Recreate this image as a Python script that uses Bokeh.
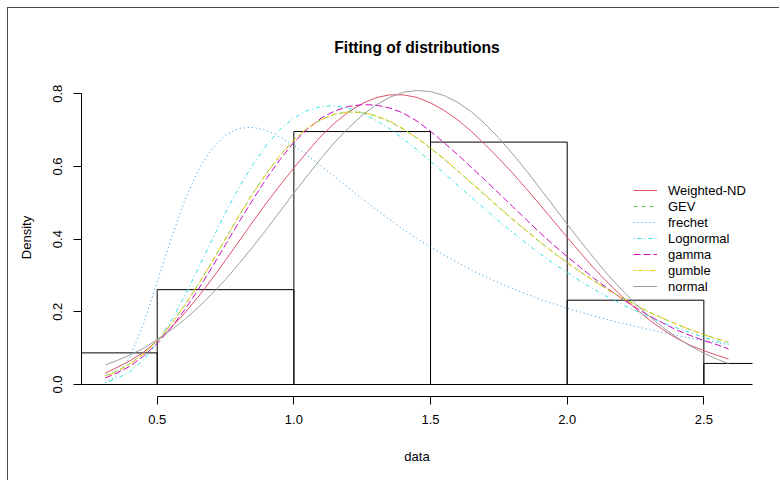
from bokeh.plotting import figure
from bokeh.models import Range1d, FixedTicker, PrintfTickFormatter, Legend, LegendItem
from bokeh.embed import file_html
from bokeh.resources import INLINE

# ---- histogram (density) ----
bin_left = [0.0, 0.5, 1.0, 1.5, 2.0, 2.5]
bin_right = [0.5, 1.0, 1.5, 2.0, 2.5, 3.0]
hist_density = [0.087, 0.261, 0.696, 0.667, 0.232, 0.058]

# ---- fitted density curves ----
x_grid = [0.31, 0.35, 0.40, 0.45, 0.50, 0.55, 0.60, 0.65, 0.70, 0.75, 0.80, 0.85, 0.90, 0.95,
          1.00, 1.05, 1.10, 1.15, 1.20, 1.25, 1.30, 1.35, 1.40, 1.45, 1.50, 1.55, 1.60, 1.65,
          1.70, 1.75, 1.80, 1.85, 1.90, 1.95, 2.00, 2.05, 2.10, 2.15, 2.20, 2.25, 2.30, 2.35,
          2.40, 2.45, 2.50, 2.55, 2.59]

weighted_nd = [0.031, 0.046, 0.065, 0.089, 0.120, 0.156, 0.196, 0.241, 0.290, 0.342, 0.395, 0.448,
               0.500, 0.549, 0.596, 0.641, 0.684, 0.720, 0.750, 0.773, 0.789, 0.797, 0.797, 0.790,
               0.775, 0.754, 0.728, 0.696, 0.660, 0.622, 0.582, 0.539, 0.495, 0.450, 0.405, 0.361,
               0.318, 0.279, 0.243, 0.209, 0.178, 0.151, 0.127, 0.108, 0.093, 0.080, 0.070]
gev = [0.024, 0.036, 0.057, 0.085, 0.121, 0.165, 0.217, 0.275, 0.337, 0.401, 0.465, 0.526,
       0.582, 0.631, 0.673, 0.706, 0.729, 0.744, 0.750, 0.748, 0.739, 0.723, 0.703, 0.678,
       0.650, 0.620, 0.587, 0.554, 0.520, 0.487, 0.454, 0.423, 0.392, 0.363, 0.335, 0.309,
       0.284, 0.261, 0.239, 0.219, 0.200, 0.182, 0.166, 0.151, 0.138, 0.125, 0.116]
gumble = [0.023, 0.035, 0.056, 0.084, 0.120, 0.165, 0.217, 0.275, 0.337, 0.401, 0.465, 0.525,
          0.581, 0.631, 0.673, 0.706, 0.729, 0.744, 0.750, 0.749, 0.740, 0.725, 0.704, 0.679,
          0.651, 0.621, 0.588, 0.555, 0.522, 0.488, 0.456, 0.424, 0.393, 0.363, 0.335, 0.309,
          0.284, 0.260, 0.238, 0.218, 0.199, 0.182, 0.166, 0.151, 0.137, 0.125, 0.116]
lognormal = [0.006, 0.015, 0.035, 0.068, 0.115, 0.174, 0.243, 0.319, 0.397, 0.473, 0.543, 0.606,
             0.659, 0.702, 0.733, 0.754, 0.765, 0.767, 0.760, 0.747, 0.727, 0.704, 0.676, 0.646,
             0.614, 0.581, 0.548, 0.515, 0.482, 0.450, 0.419, 0.389, 0.360, 0.333, 0.308, 0.284,
             0.261, 0.240, 0.221, 0.203, 0.186, 0.170, 0.156, 0.143, 0.130, 0.119, 0.111]
gamma = [0.018, 0.031, 0.050, 0.078, 0.113, 0.155, 0.205, 0.261, 0.322, 0.385, 0.448, 0.509,
         0.567, 0.620, 0.666, 0.703, 0.733, 0.753, 0.765, 0.770, 0.769, 0.761, 0.747, 0.725,
         0.697, 0.665, 0.632, 0.597, 0.562, 0.526, 0.490, 0.454, 0.418, 0.384, 0.352, 0.321,
         0.291, 0.263, 0.236, 0.212, 0.189, 0.169, 0.150, 0.135, 0.121, 0.109, 0.098]
normal = [0.054, 0.065, 0.081, 0.100, 0.123, 0.149, 0.179, 0.212, 0.249, 0.289, 0.333, 0.379,
          0.427, 0.477, 0.527, 0.575, 0.623, 0.667, 0.706, 0.741, 0.769, 0.790, 0.804, 0.809,
          0.806, 0.795, 0.776, 0.750, 0.717, 0.678, 0.635, 0.589, 0.540, 0.491, 0.441, 0.393,
          0.346, 0.301, 0.260, 0.222, 0.188, 0.157, 0.130, 0.106, 0.086, 0.069, 0.058]
frechet = [0.005, 0.022, 0.076, 0.167, 0.282, 0.399, 0.505, 0.589, 0.649, 0.686, 0.705, 0.708,
           0.699, 0.681, 0.658, 0.630, 0.601, 0.571, 0.541, 0.511, 0.482, 0.454, 0.427, 0.402,
           0.378, 0.356, 0.335, 0.315, 0.297, 0.280, 0.264, 0.249, 0.235, 0.222, 0.210, 0.199,
           0.188, 0.178, 0.169, 0.160, 0.151, 0.143, 0.135, 0.128, 0.121, 0.115, 0.110]

series_names = ["Weighted-ND", "GEV", "frechet", "Lognormal", "gamma", "gumble", "normal"]
series_colors = ["#DF536B", "#61D04F", "#2297E6", "#28E2E5", "#CD0BBC", "#F5C710", "#9E9E9E"]
series_dash = ["solid", "4 4", "1 3", "1 3 4 3", "7 3", "2 2 6 2", "solid"]

x_ticks = [0.5, 1.0, 1.5, 2.0, 2.5]
y_ticks = [0.0, 0.2, 0.4, 0.6, 0.8]

FONT = "Liberation Sans"

p = figure(width=772, height=473, output_backend="svg", toolbar_location=None,
           x_range=Range1d(0.223, 2.678), y_range=Range1d(-0.033, 0.842),
           min_border_left=73, min_border_right=28, min_border_top=70, min_border_bottom=85,
           title="Fitting of distributions")
p.styles = {"border-top": "1px solid #4a4a4a", "border-left": "1px solid #4a4a4a",
            "margin-top": "7px", "margin-left": "7px"}

p.title.align = "center"
p.title.text_font = FONT
p.title.text_font_size = "15.6px"
p.title.text_font_style = "bold"
p.title.text_color = "black"
p.title.standoff = 46

p.background_fill_color = "white"
p.border_fill_color = "white"
p.outline_line_color = None
p.xgrid.visible = False
p.ygrid.visible = False

# histogram bars
p.quad(left=bin_left, right=bin_right, bottom=[0] * len(hist_density), top=hist_density,
       fill_color=None, line_color="black", line_width=1)

ys = [weighted_nd, gev, frechet, lognormal, gamma, gumble, normal]
items = []
for name, col, dash, yv in zip(series_names, series_colors, series_dash, ys):
    r = p.line(x=list(x_grid), y=yv, line_color=col, line_width=1, line_dash=dash)
    items.append(LegendItem(label=name, renderers=[r]))

legend = Legend(items=items, location=(552, 102), border_line_color=None,
                background_fill_alpha=0, padding=0, margin=0, spacing=0,
                glyph_width=24, glyph_height=16, label_height=16, label_standoff=11,
                label_text_font=FONT, label_text_font_size="13px", label_text_color="black")
p.add_layout(legend)

for ax in (p.xaxis[0], p.yaxis[0]):
    ax.axis_line_color = "black"
    ax.major_tick_line_color = "black"
    ax.major_tick_out = 8
    ax.major_tick_in = 0
    ax.minor_tick_line_color = None
    ax.major_label_text_font = FONT
    ax.major_label_text_font_size = "13px"
    ax.major_label_text_color = "black"
    ax.axis_label_text_font = FONT
    ax.axis_label_text_font_size = "13px"
    ax.axis_label_text_font_style = "normal"
    ax.axis_label_text_color = "black"
    ax.formatter = PrintfTickFormatter(format="%.1f")

p.xaxis[0].ticker = FixedTicker(ticks=x_ticks)
p.yaxis[0].ticker = FixedTicker(ticks=y_ticks)
p.xaxis[0].bounds = (0.5, 2.5)
p.yaxis[0].bounds = (0.0, 0.8)
p.xaxis[0].axis_label = "data"
p.yaxis[0].axis_label = "Density"
p.xaxis[0].major_label_standoff = 10
p.xaxis[0].axis_label_standoff = 22
p.yaxis[0].major_label_standoff = 11
p.yaxis[0].axis_label_standoff = 17
p.yaxis[0].major_label_orientation = "vertical"

open("out.html", "w").write(file_html(p, INLINE))
